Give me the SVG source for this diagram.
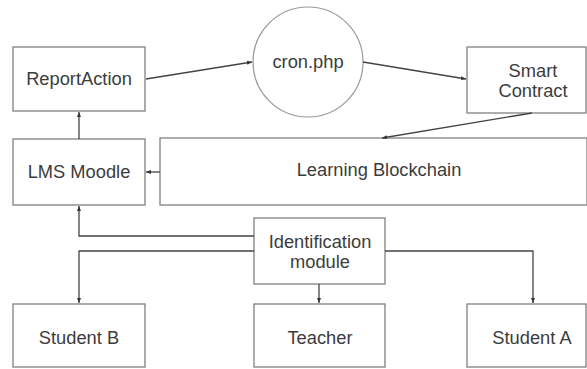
<svg xmlns="http://www.w3.org/2000/svg" width="587" height="369" viewBox="0 0 587 369">
<defs>
<marker id="ah" viewBox="0 0 10 10" refX="10" refY="5" markerWidth="5" markerHeight="5" orient="auto" markerUnits="userSpaceOnUse">
<path d="M0,1 L10,5 L0,9 z" fill="#333"/>
</marker>
<style>
.box{fill:#fff;stroke:#808080;stroke-width:1.3}
.t{font-family:"Liberation Sans",Arial,sans-serif;font-size:18.3px;fill:#3c3c3c;text-anchor:middle}
.c{fill:none;stroke:#444;stroke-width:1.3;marker-end:url(#ah)}
</style>
</defs>
<rect width="587" height="369" fill="#fff"/>
<g id="reportaction"><rect class="box" x="13" y="47" width="132" height="64"/><text class="t" x="79" y="85">ReportAction</text></g>
<g id="cron"><circle cx="308" cy="62" r="55" fill="#fff" stroke="#999" stroke-width="1.2"/><text class="t" x="308" y="68">cron.php</text></g>
<g id="smartcontract"><rect class="box" x="467" y="47" width="119" height="66"/><text class="t" x="533" y="77">Smart</text><text class="t" x="533" y="97">Contract</text></g>
<g id="lms"><rect class="box" x="13" y="139" width="132" height="66"/><text class="t" x="79" y="178">LMS Moodle</text></g>
<g id="blockchain"><rect class="box" x="160" y="138" width="427" height="67"/><text class="t" x="379" y="176">Learning Blockchain</text></g>
<g id="identification"><rect class="box" x="254" y="218" width="131" height="66"/><text class="t" x="320" y="248">Identification</text><text class="t" x="320" y="268">module</text></g>
<g id="studentb"><rect class="box" x="13" y="304" width="132" height="63"/><text class="t" x="79" y="344">Student B</text></g>
<g id="teacher"><rect class="box" x="254" y="304" width="131" height="63"/><text class="t" x="320" y="344">Teacher</text></g>
<g id="studenta"><rect class="box" x="467" y="304" width="119" height="63"/><text class="t" x="532" y="344">Student A</text></g>
<g id="connectors">
<path class="c" d="M146,79 L252,62"/>
<path class="c" d="M363,62 L466,79"/>
<path class="c" d="M532,113 L382,138"/>
<path class="c" d="M160,172 L146,172"/>
<path class="c" d="M79,139 L79,112"/>
<path class="c" d="M254,236 L79,236 L79,206"/>
<path class="c" d="M254,251 L79,251 L79,303"/>
<path class="c" d="M385,251 L533,251 L533,303"/>
<path class="c" d="M319,284 L319,303"/>
</g>
</svg>
